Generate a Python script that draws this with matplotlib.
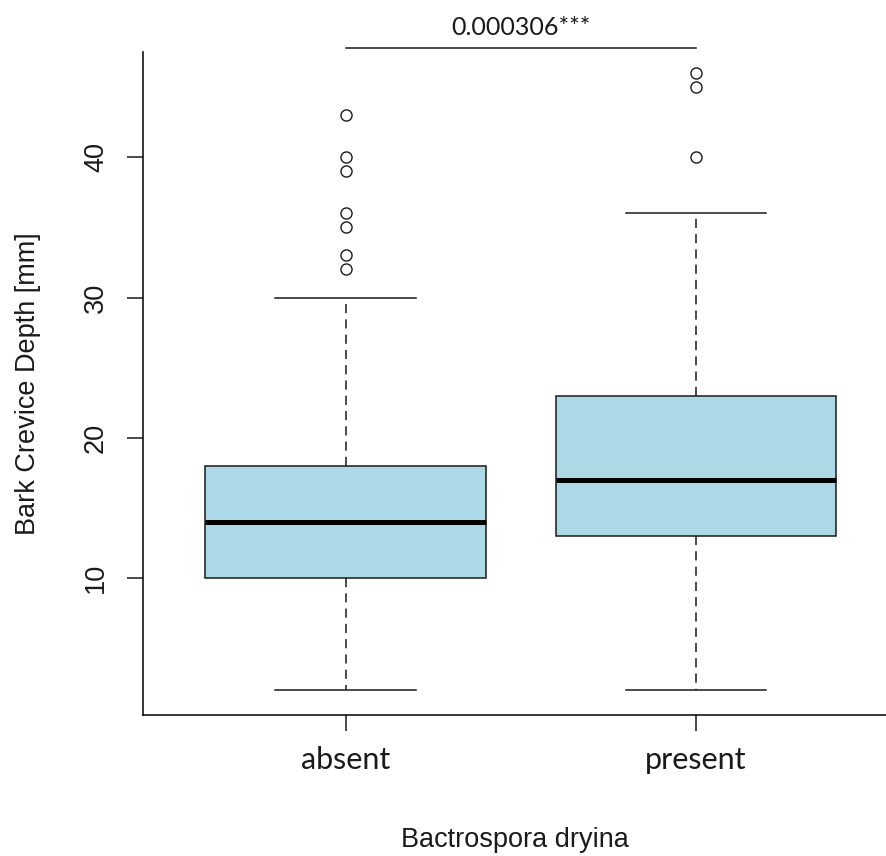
import matplotlib
matplotlib.use("Agg")
import matplotlib.pyplot as plt

# Daten
groups = ["absent", "present"]
q1 = [10, 13]
median = [14, 17]
q3 = [18, 23]
whisker_lo = [2, 2]
whisker_hi = [30, 36]
outliers = [[32, 33, 35, 36, 39, 40, 43], [40, 45, 46]]
p_text = "0.000306***"

plt.rcParams['font.family'] = ['Liberation Sans', 'DejaVu Sans']

fig = plt.figure(figsize=(8.86, 8.56), dpi=100)
ax = fig.add_axes([143 / 886, 1 - 715 / 856, 1 - 143 / 886, (715 - 52) / 856])

stats = []
for i, g in enumerate(groups):
    stats.append(dict(label=g, q1=q1[i], med=median[i], q3=q3[i],
                      whislo=whisker_lo[i], whishi=whisker_hi[i],
                      fliers=outliers[i]))

ax.bxp(stats, positions=[1, 2], widths=0.8, patch_artist=True,
       boxprops=dict(facecolor='#add8e6', edgecolor='#1a1a1a', linewidth=1.1),
       medianprops=dict(color='black', linewidth=3.6, solid_capstyle='butt'),
       whiskerprops=dict(color='#1a1a1a', linewidth=1.1, linestyle=(0, (6, 4))),
       capprops=dict(color='#1a1a1a', linewidth=1.1),
       capwidths=0.4,
       flierprops=dict(marker='o', markersize=8, markerfacecolor='none',
                       markeredgecolor='#1a1a1a', markeredgewidth=1.0))

ax.set_xlim(0.422, 2.542)
ax.set_ylim(0.24, 47.5)

ax.spines['top'].set_visible(False)
ax.spines['right'].set_visible(False)
ax.spines['left'].set_linewidth(1.1)
ax.spines['bottom'].set_linewidth(1.1)

ax.set_yticks([10, 20, 30, 40])
ax.tick_params(axis='both', length=11.5, width=1.1, color='#1a1a1a')
ax.tick_params(axis='y', labelsize=19.5, pad=13, labelcolor='#1a1a1a')
ax.tick_params(axis='x', labelsize=22, pad=11, labelcolor='#1a1a1a')
for lab in ax.get_yticklabels():
    lab.set_rotation(90)
    lab.set_va('center')
for lab in ax.get_xticklabels():
    lab.set_fontfamily(['Lato', 'DejaVu Sans'])

ax.set_xlabel("Bactrospora dryina", fontsize=19.5, color='#1a1a1a')
ax.xaxis.label.set_va('baseline')
ax.xaxis.set_label_coords(0.5, -0.199)
ax.set_ylabel("Bark Crevice Depth [mm]", fontsize=19.5, color='#1a1a1a')
ax.yaxis.label.set_va('baseline')
ax.yaxis.set_label_coords(-0.1454, 0.5)

# Signifikanz-Klammer
ax.plot([1, 2], [47.79, 47.79], color='#1a1a1a', linewidth=1.1, clip_on=False)
ax.text(1.5, 48.7, p_text, ha='center', va='baseline', fontsize=18,
        family=['Lato', 'DejaVu Sans'], color='#1a1a1a', clip_on=False)

fig.savefig("out.png", dpi=100)
